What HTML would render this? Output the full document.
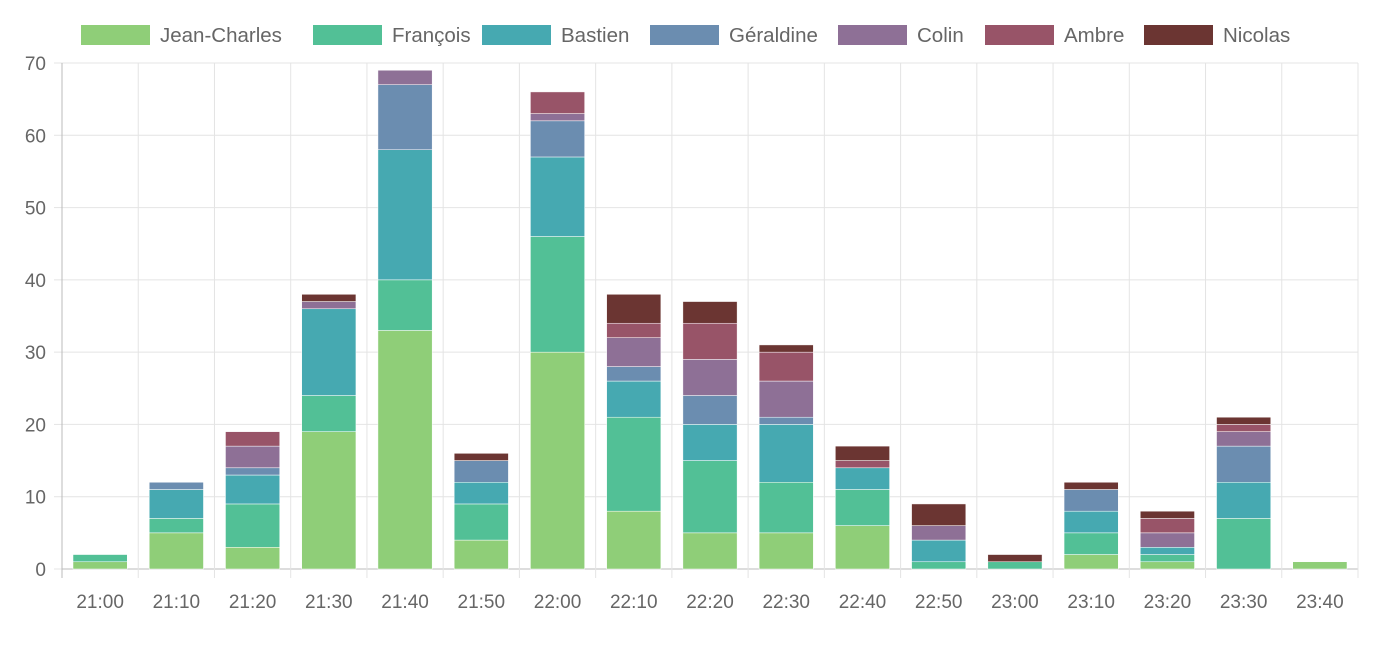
<!DOCTYPE html>
<html><head><meta charset="utf-8"><style>
html,body{margin:0;padding:0;background:#fff;}
svg text{font-family:"Liberation Sans",sans-serif;fill:#666;}
</style></head><body>
<svg id="s" width="1386" height="644" xmlns="http://www.w3.org/2000/svg"></svg>
<script>
const s=document.getElementById('s');
const cols=['#8fce78','#52c096','#46a9b1','#6b8db0','#8e7096','#985468','#6b3532'];
const names=['Jean-Charles','François','Bastien','Géraldine','Colin','Ambre','Nicolas'];
const labels=['21:00','21:10','21:20','21:30','21:40','21:50','22:00','22:10','22:20','22:30','22:40','22:50','23:00','23:10','23:20','23:30','23:40'];
const d=[[1,1,0,0,0,0,0],[5,2,4,1,0,0,0],[3,6,4,1,3,2,0],[19,5,12,0,1,0,1],[33,7,18,9,2,0,0],[4,5,3,3,0,0,1],[30,16,11,5,1,3,0],[8,13,5,2,4,2,4],[5,10,5,4,5,5,3],[5,7,8,1,5,4,1],[6,5,3,0,0,1,2],[0,1,3,0,2,0,3],[0,1,0,0,0,0,1],[2,3,3,3,0,0,1],[1,1,1,0,2,2,1],[0,7,5,5,2,1,1],[1,0,0,0,0,0,0]];
let h='';
const x0=62,x1=1358,y0=569,yt=63,cw=(x1-x0)/17,k=(y0-yt)/70;
for(let i=0;i<=7;i++){const y=y0-i*10*k;h+=`<line x1="${x0}" x2="${x1}" y1="${y}" y2="${y}" stroke="${i==0?'#bbb':'#e4e4e4'}"/><line x1="54" x2="${x0}" y1="${y}" y2="${y}" stroke="#e4e4e4"/><text x="46" y="${y+7}" font-size="19" text-anchor="end">${i*10}</text>`;}
for(let i=0;i<=17;i++){const x=x0+i*cw;h+=`<line x1="${x}" x2="${x}" y1="${yt}" y2="578" stroke="${i==0?'#bbb':'#e4e4e4'}"/>`;}
d.forEach((r,i)=>{let c=0;const bx=x0+i*cw+11,bw=cw-22;r.forEach((v,j)=>{if(!v)return;const y=y0-(c+v)*k;h+=`<rect x="${bx}" y="${y}" width="${bw}" height="${v*k}" fill="${cols[j]}" stroke="#fff" stroke-width="0.5"/>`;c+=v;});
h+=`<text x="${x0+i*cw+cw/2}" y="608" font-size="19" text-anchor="middle">${labels[i]}</text>`;});
const lb=[81,313,482,650,838,985,1144];
names.forEach((n,j)=>{h+=`<rect x="${lb[j]}" y="25" width="69" height="20" fill="${cols[j]}"/><text x="${lb[j]+79}" y="42" font-size="20.5">${n}</text>`;});
s.innerHTML=h;
</script>
</body></html>
